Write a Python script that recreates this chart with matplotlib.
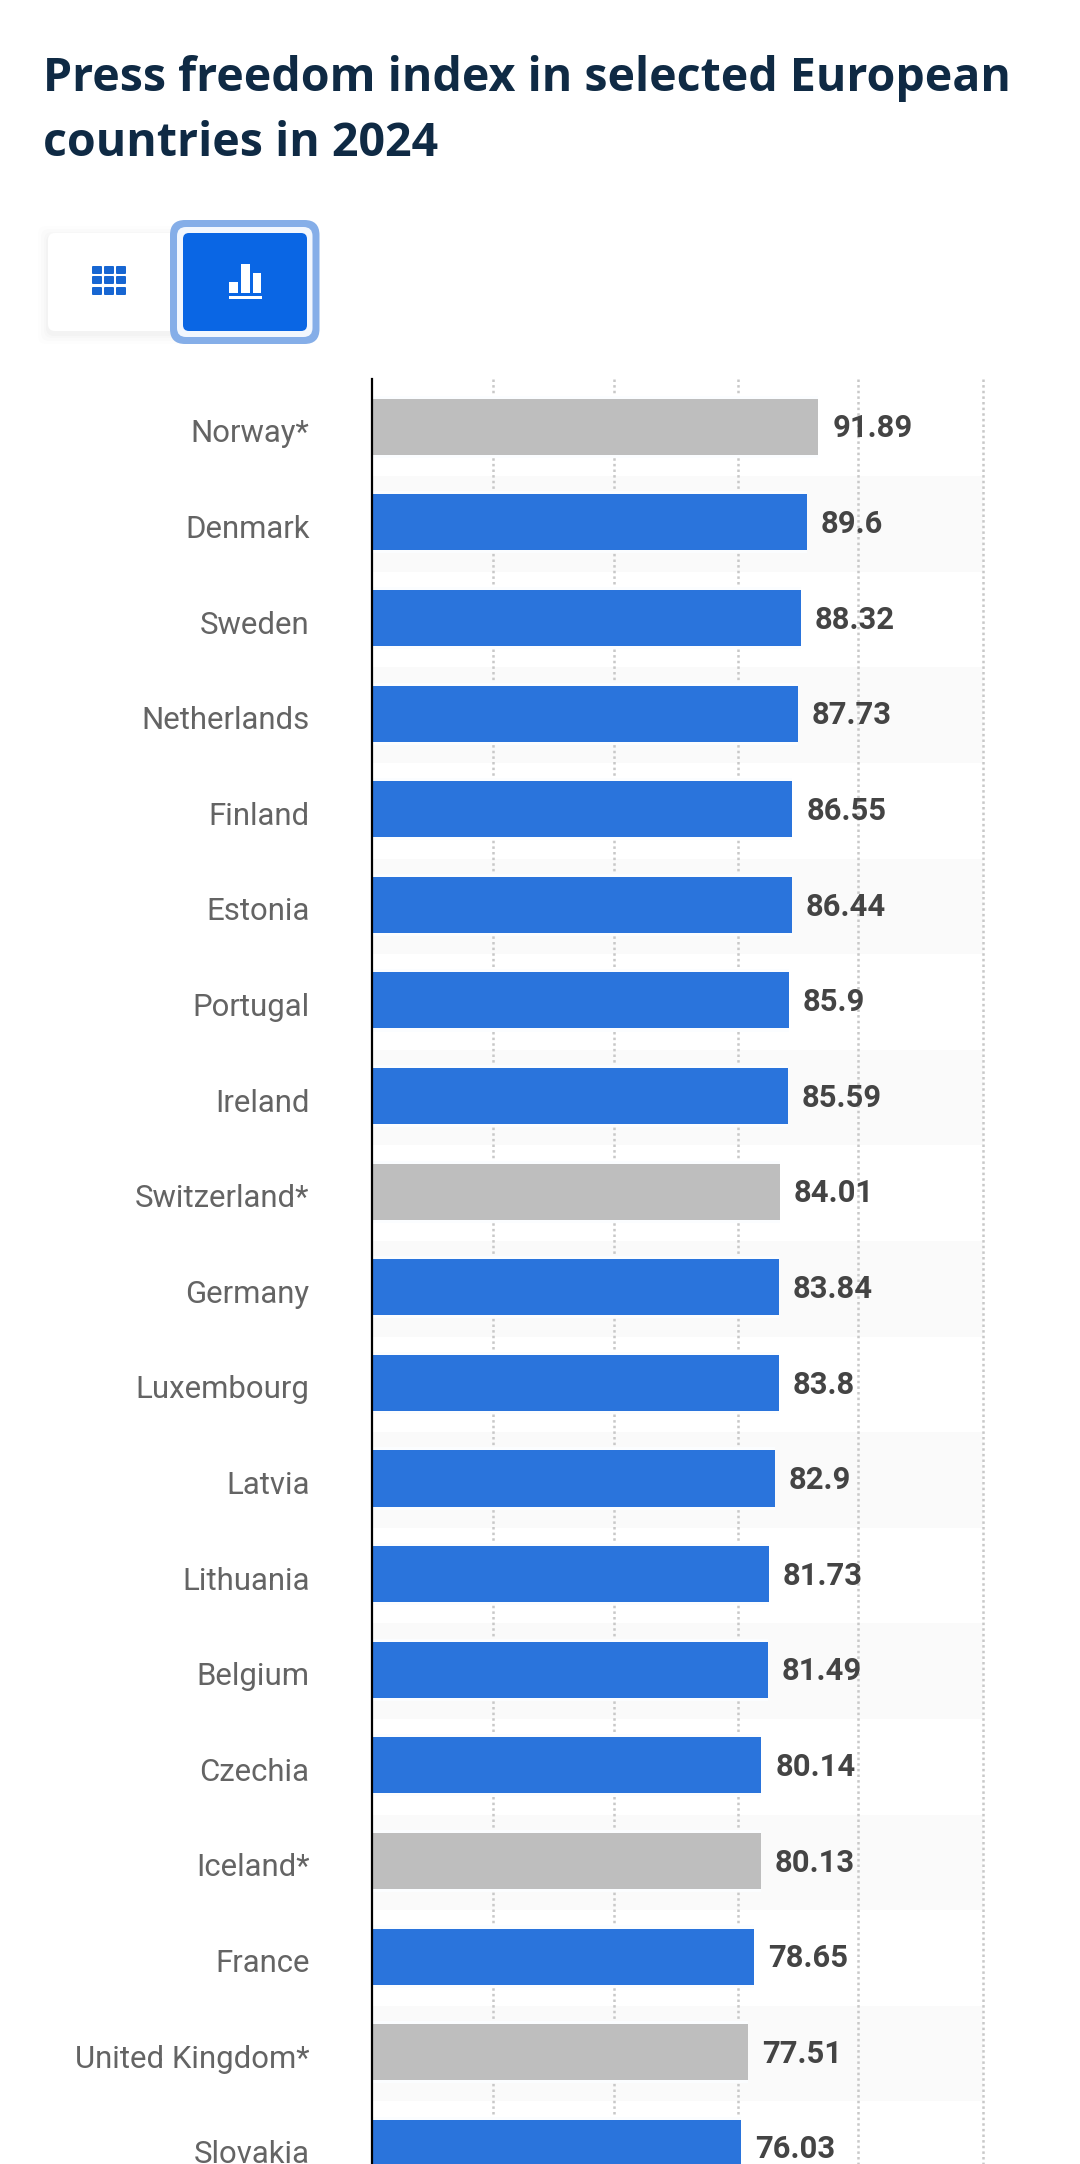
from matplotlib import pyplot as plt
from matplotlib.patches import FancyBboxPatch, Rectangle
from matplotlib.transforms import ScaledTranslation

countries = ["Norway*", "Denmark", "Sweden", "Netherlands", "Finland", "Estonia", "Portugal",
             "Ireland", "Switzerland*", "Germany", "Luxembourg", "Latvia", "Lithuania",
             "Belgium", "Czechia", "Iceland*", "France", "United Kingdom*", "Slovakia"]
index_values = [91.89, 89.6, 88.32, 87.73, 86.55, 86.44, 85.9, 85.59, 84.01, 83.84, 83.8,
                82.9, 81.73, 81.49, 80.14, 80.13, 78.65, 77.51, 76.03]
value_labels = ["91.89", "89.6", "88.32", "87.73", "86.55", "86.44", "85.9", "85.59", "84.01",
                "83.84", "83.8", "82.9", "81.73", "81.49", "80.14", "80.13", "78.65", "77.51",
                "76.03"]
grid_values = [25.0, 49.8, 75.4, 100.0, 125.9]

W, H = 1080, 2164
BLUE = "#2a74dc"
GREY = "#bebebe"

fig = plt.figure(figsize=(W / 100, H / 100), dpi=100)


def px_box(left, top, right, bottom):
    return [left / W, 1 - bottom / H, (right - left) / W, (bottom - top) / H]


# overlay in pixel coordinates for the title and the two buttons
top = fig.add_axes([0, 0, 1, 1], zorder=3)
top.set_xlim(0, W)
top.set_ylim(H, 0)
top.axis("off")
top.text(43, 78, "Press freedom index in selected European", fontsize=33.5, weight="bold",
         family="Open Sans", color="#0f2a44", va="center", ha="left")
top.text(43, 144, "countries in 2024", fontsize=33.5, weight="bold",
         family="Open Sans", color="#0f2a44", va="center", ha="left")

# table button with soft shadow
for grow, alpha in [(10, 0.008), (7, 0.01), (4, 0.012), (2, 0.015)]:
    top.add_patch(FancyBboxPatch((48 - grow, 233 - grow + 3), 130 + 2 * grow, 98 + 2 * grow,
                                 boxstyle="round,pad=0,rounding_size=8", fc="black", ec="none",
                                 alpha=alpha))
top.add_patch(FancyBboxPatch((48, 233), 130, 98, boxstyle="round,pad=0,rounding_size=7",
                             fc="white", ec="none"))
for row_top in (266, 276, 287):
    for col_left in (92, 104, 116):
        top.add_patch(FancyBboxPatch((col_left, row_top), 10, 8, fc="#1766d2", ec="none",
                                     boxstyle="round,pad=0,rounding_size=1"))

# chart button, selected
top.add_patch(FancyBboxPatch((170, 220), 149.5, 124, boxstyle="round,pad=0,rounding_size=15",
                             fc="#85aee8", ec="none"))
top.add_patch(FancyBboxPatch((177, 227), 135.5, 110, boxstyle="round,pad=0,rounding_size=9",
                             fc="#f2f7fe", ec="none"))
top.add_patch(FancyBboxPatch((183, 233), 124, 98, boxstyle="round,pad=0,rounding_size=6",
                             fc="#0a66e4", ec="none"))
for left, bar_top in [(229, 281.5), (241, 264), (252.5, 272.5)]:
    top.add_patch(Rectangle((left, bar_top), 8.5, 293 - bar_top, fc="white", ec="none"))
top.add_patch(Rectangle((229, 295.5), 33, 3, fc="white", ec="none"))

# chart area
ax = fig.add_axes(px_box(372, 379, 372 + 4.857 * 130, H))
ax.set_xlim(0, 130)
ax.set_ylim(18.17, -0.5)
ax.patch.set_visible(False)

for i in range(1, len(countries), 2):
    ax.axhspan(i - 0.484, i + 0.516, xmax=125.9 / 130, color="#fafafa", lw=0, zorder=0)
ax.vlines(grid_values, -0.5, 18.17, colors="#c8c8c8", linestyles=(0, (1, 1.25)), lw=1.8, zorder=1)

colors = [GREY if c.endswith("*") else BLUE for c in countries]
ax.barh(range(len(countries)), index_values, height=0.65, color="#fbfdff", zorder=1.5)
ax.barh(range(len(countries)), index_values, height=0.586, color=colors, zorder=2)

for i, (v, lab) in enumerate(zip(index_values, value_labels)):
    ax.annotate(lab, (v, i), xytext=(10, -1.2), textcoords="offset points", fontsize=22.3,
                weight="bold", family="Roboto", color="#444444", va="center", ha="left",
                zorder=4)

for side in ("top", "right", "bottom"):
    ax.spines[side].set_visible(False)
ax.spines["left"].set_linewidth(1.6)
ax.spines["left"].set_color("black")
ax.spines["left"].set_zorder(5)
ax.set_xticks([])
ax.set_yticks(range(len(countries)), countries, fontsize=22.4, family="Roboto", color="#646464")
ax.tick_params(axis="y", length=0, pad=45)
label_shift = ScaledTranslation(0, -4 / 100, fig.dpi_scale_trans)
for label in ax.get_yticklabels():
    label.set_transform(label.get_transform() + label_shift)

plt.savefig("out.png", dpi=100)
